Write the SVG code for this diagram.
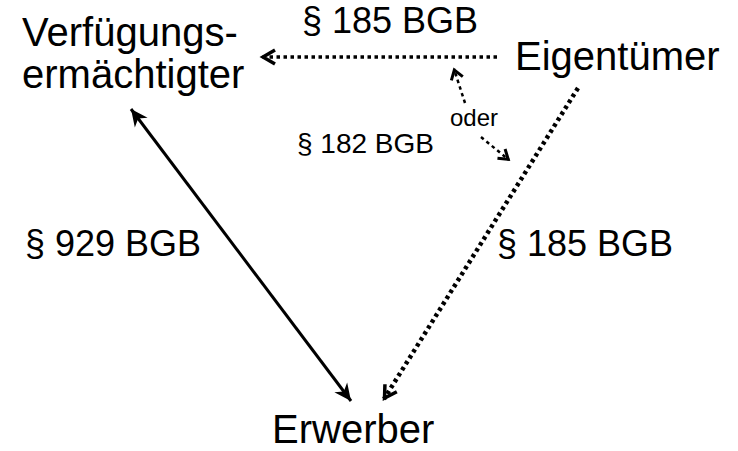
<svg xmlns="http://www.w3.org/2000/svg" width="738" height="451" viewBox="0 0 738 451">
<style>
text{font-family:"Liberation Sans",Arial,sans-serif;fill:#000}
.name{font-size:40px}
.big{font-size:36px}
.mid{font-size:28px}
.small{font-size:24px}
.dot{fill:none;stroke:#000;stroke-dasharray:3.5 3.5}
</style>
<defs>
<marker id="solidHead" markerUnits="userSpaceOnUse" markerWidth="30" markerHeight="30" refX="0" refY="0" orient="auto-start-reverse" overflow="visible" viewBox="-20 -10 30 20">
<path d="M0,0 L-17,-8 L-12,0 L-17,8 Z" fill="#000"/>
</marker>
<marker id="openHead" markerUnits="userSpaceOnUse" markerWidth="30" markerHeight="30" refX="0" refY="0" orient="auto-start-reverse" overflow="visible" viewBox="-20 -10 30 20">
<path d="M-13,-7 L-1,0 L-13,7" fill="none" stroke="#000" stroke-width="3.5" stroke-linejoin="miter"/>
</marker>
<marker id="openHeadSmall" markerUnits="userSpaceOnUse" markerWidth="30" markerHeight="30" refX="0" refY="0" orient="auto-start-reverse" overflow="visible" viewBox="-20 -10 30 20">
<path d="M-10,-6 L-1,0 L-10,6" fill="none" stroke="#000" stroke-width="3" stroke-linejoin="miter"/>
</marker>
</defs>
<g id="connectors">
<line class="dot" x1="497" y1="57" x2="262" y2="57" stroke-width="3.5" marker-end="url(#openHead)"/>
<line x1="131" y1="109" x2="351" y2="401" stroke="#000" stroke-width="3" marker-start="url(#solidHead)" marker-end="url(#solidHead)"/>
<line class="dot" x1="578" y1="88" x2="384" y2="399" stroke-width="4.5" stroke-dasharray="4.5 4.5" marker-end="url(#openHead)"/>
<line class="dot" x1="465" y1="103" x2="454" y2="69" stroke-width="2.5" stroke-dasharray="2.5 2.5" marker-end="url(#openHeadSmall)"/>
<line class="dot" x1="481" y1="137" x2="509" y2="160" stroke-width="2.5" stroke-dasharray="2.5 2.5" marker-end="url(#openHeadSmall)"/>
</g>
<g id="verfuegungsermaechtigter">
<text class="name" x="22" y="46">Verfügungs-</text>
<text class="name" x="22" y="88">ermächtigter</text>
</g>
<g id="eigentuemer"><text class="name" x="515" y="70">Eigentümer</text></g>
<g id="erwerber"><text class="name" x="272" y="443">Erwerber</text></g>
<g id="labels">
<text class="big" x="302" y="33">§ 185 BGB</text>
<text class="small" x="450" y="126">oder</text>
<text class="mid" x="297" y="153">§ 182 BGB</text>
<text class="big" x="25" y="256">§ 929 BGB</text>
<text class="big" x="497" y="256">§ 185 BGB</text>
</g>
</svg>
